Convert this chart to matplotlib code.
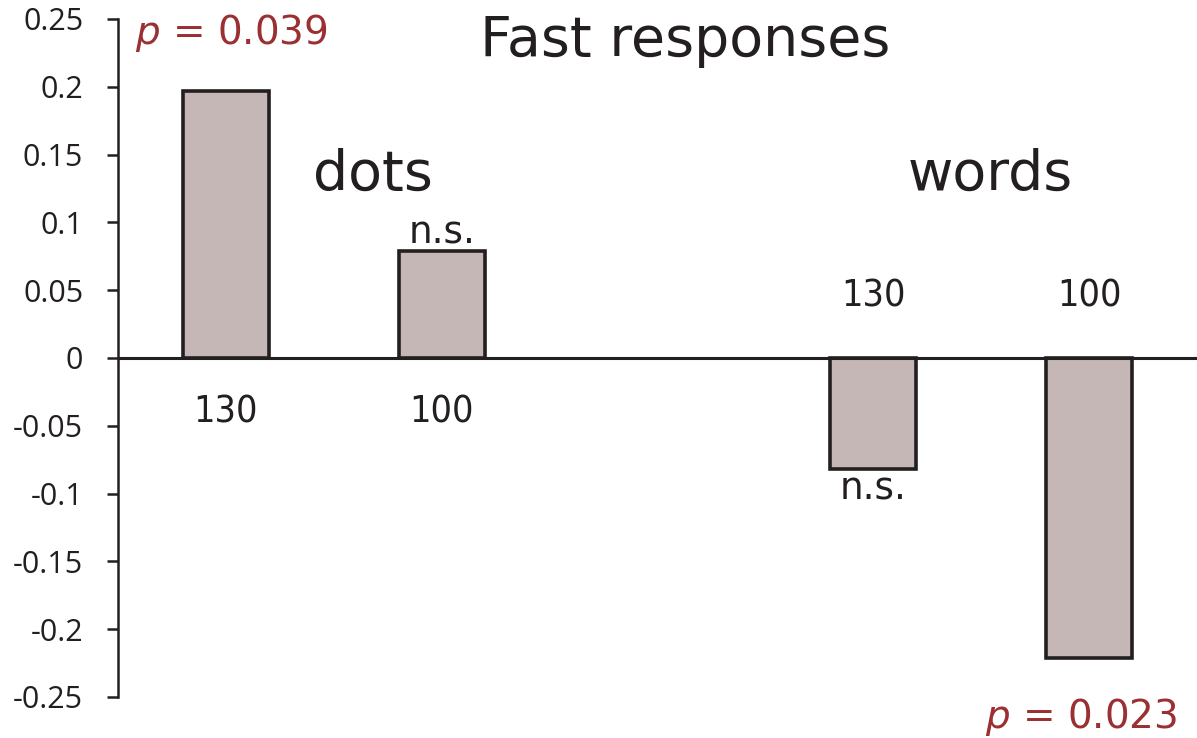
import matplotlib
matplotlib.use('Agg')
import matplotlib.pyplot as plt

# bar data
positions = [0, 1, 3, 4]
values = [0.197, 0.079, -0.082, -0.221]
bar_labels = ['130', '100', '130', '100']
sig_labels = ['p = 0.039', 'n.s.', 'n.s.', 'p = 0.023']
yticks = [0.25, 0.2, 0.15, 0.1, 0.05, 0, -0.05, -0.1, -0.15, -0.2, -0.25]
ytick_labels = ['0.25', '0.2', '0.15', '0.1', '0.05', '0', '-0.05', '-0.1', '-0.15', '-0.2', '-0.25']

plt.rcParams['mathtext.fontset'] = 'dejavusans'
dark = '#231f20'
red = '#9b3033'

fig = plt.figure(figsize=(11.97, 7.38), dpi=100)
ax = fig.add_axes([0.0986, 0.0556, 0.9014, 0.9187])

ax.bar(positions, values, width=0.4, color='#c6b7b7', edgecolor=dark, linewidth=2.6, zorder=2)
ax.axhline(0, color=dark, linewidth=2.2, zorder=3)

ax.set_xlim(-0.5, 4.5)
ax.set_ylim(-0.25, 0.25)
ax.set_yticks(yticks)
ax.set_yticklabels(ytick_labels, fontsize=22, fontfamily='Open Sans', color=dark)
ax.set_xticks([])
for s in ['top', 'right', 'bottom']:
    ax.spines[s].set_visible(False)
ax.spines['left'].set_color(dark)
ax.spines['left'].set_linewidth(1.8)
ax.tick_params(axis='y', length=8, width=1.8, color=dark, pad=17)

# numbers under / over bars
for x, v, lab in zip(positions, values, bar_labels):
    y = -0.04 if v > 0 else 0.045
    ax.text(x, y, lab, ha='center', va='center', fontsize=27, color=dark,
            fontfamily='DejaVu Sans', fontstretch='condensed')

# significance labels
ax.text(positions[1], values[1] + 0.013, sig_labels[1], ha='center', va='center',
        fontsize=27, color=dark)
ax.text(positions[2], values[2] - 0.015, sig_labels[2], ha='center', va='center',
        fontsize=27, color=dark)
ax.text(-0.42, 0.2395, r'$p$ = 0.039', ha='left', va='center', fontsize=28, color=red)
ax.text(4.41, -0.2645, r'$p$ = 0.023', ha='right', va='center', fontsize=28, color=red,
        clip_on=False)

# group and title text
ax.text(2.13, 0.2335, 'Fast responses', ha='center', va='center', fontsize=40, color=dark)
ax.text(0.68, 0.135, 'dots', ha='center', va='center', fontsize=40, color=dark)
ax.text(3.54, 0.135, 'words', ha='center', va='center', fontsize=40, color=dark)

fig.savefig('out.png', dpi=100)
